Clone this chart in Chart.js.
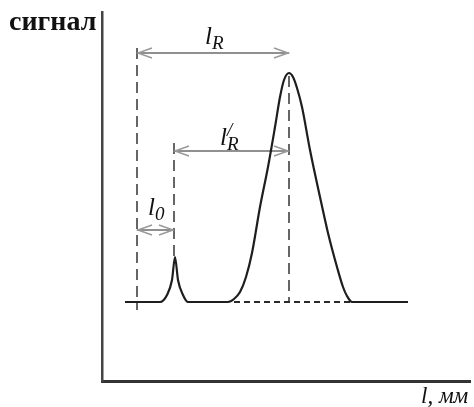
<!DOCTYPE html>
<html><head><meta charset="utf-8">
<script src="https://cdn.jsdelivr.net/npm/chart.js@4.4.1/dist/chart.umd.min.js"></script>
<style>html,body{margin:0;padding:0;background:#fff}</style>
</head><body>
<canvas id="c" width="474" height="407"></canvas>
<script>
// ---- data (x in mm along the chromatogram, y = detector signal) ----
const signalX = [5.75, 14.5, 16.25, 17.5, 18.25, 19, 20.25, 21.5, 31.5, 33, 34.5, 36, 37.5, 39.5, 41.5, 43.25, 44.5, 45.5, 46.75, 47.75, 48.75, 50, 52, 54.5, 56.5, 58.75, 60.25, 61.25, 62.5, 76.5];
const signalY = [19.75, 19.75, 21.5, 25.25, 31, 25.25, 21.5, 19.75, 19.75, 20.5, 22.25, 26, 32, 43.5, 53.5, 63.5, 71, 75.25, 77, 76, 73.25, 68.5, 57.75, 46, 37, 28.5, 23.5, 21.25, 19.75, 19.75];
const baselineLevel = 19.75;
const hiddenBaseX = [33, 62.5];
const markerX = [8.75, 18, 46.75];
const markerTop = [83.25, 59.5, 76.25];
const markerBottom = [17.75, 31, 19.75];
const arrowY = [82, 57.5, 37.75];
const arrowFrom = [8.75, 18, 8.75];
const arrowTo = [46.75, 46.75, 18];
const arrowPrime = [false, true, false];
const arrowSub = ['R', 'R', '0'];
const labelX = [25.75, 29.5, 11.5];
const labelY = [84.25, 59, 41.5];
const yTitle = 'сигнал';
const xTitle = 'l, мм';

const datasets = [];
datasets.push({
  data: signalX.map((x, i) => ({x, y: signalY[i]})),
  borderColor: '#1e1e1e', borderWidth: 2.2, pointRadius: 0,
  cubicInterpolationMode: 'monotone'
});
datasets.push({
  data: hiddenBaseX.map(x => ({x, y: baselineLevel})),
  borderColor: '#2a2a2a', borderWidth: 2, borderDash: [6, 4], pointRadius: 0
});
markerX.forEach((x, i) => datasets.push({
  data: [{x, y: markerTop[i]}, {x, y: markerBottom[i]}],
  borderColor: '#666', borderWidth: 2, borderDash: [11, 6], pointRadius: 0
}));
arrowY.forEach((y, i) => datasets.push({
  data: [{x: arrowFrom[i], y}, {x: arrowTo[i], y}],
  borderColor: '#222', borderWidth: 1.2, pointRadius: 0
}));

const overlay = {
  id: 'overlay',
  afterDatasetsDraw(chart) {
    const ctx = chart.ctx, xs = chart.scales.x, ys = chart.scales.y;
    ctx.save();
    // arrowheads
    ctx.strokeStyle = '#9a9a9a'; ctx.lineWidth = 1.5;
    arrowY.forEach((y, i) => {
      const py = ys.getPixelForValue(y);
      const a = xs.getPixelForValue(arrowFrom[i]);
      const b = xs.getPixelForValue(arrowTo[i]);
      ctx.beginPath();
      ctx.moveTo(a + 15, py - 5); ctx.lineTo(a + 1, py); ctx.lineTo(a + 15, py + 5);
      ctx.moveTo(b - 15, py - 5); ctx.lineTo(b - 1, py); ctx.lineTo(b - 15, py + 5);
      ctx.stroke();
    });
    // labels
    ctx.fillStyle = '#111';
    ctx.textBaseline = 'alphabetic'; ctx.textAlign = 'left';
    labelX.forEach((lx, i) => {
      const px = xs.getPixelForValue(lx), py = ys.getPixelForValue(labelY[i]);
      ctx.font = 'italic 25px "Liberation Serif", serif';
      ctx.fillText('l', px, py);
      const w = ctx.measureText('l').width;
      ctx.font = 'italic 19px "Liberation Serif", serif';
      if (arrowPrime[i]) ctx.fillText('/', px + w, py - 9);
      ctx.fillText(arrowSub[i], px + w, py + 5);
    });
    // axis titles
    ctx.font = 'bold 28px "Liberation Serif", serif';
    ctx.fillText(yTitle, 9, 30);
    ctx.font = 'italic 23px "Liberation Serif", serif';
    ctx.fillText(xTitle, 421, 403);
    ctx.restore();
  }
};

new Chart(document.getElementById('c'), {
  type: 'line',
  data: {datasets},
  options: {
    responsive: false, animation: false, devicePixelRatio: 1,
    layout: {padding: {left: 102, top: 12, right: 4, bottom: 26}},
    plugins: {legend: {display: false}, tooltip: {enabled: false}},
    scales: {
      x: {type: 'linear', min: 0, max: 92,
          grid: {display: false, drawTicks: false}, ticks: {display: false},
          border: {display: true, color: '#333', width: 3}},
      y: {type: 'linear', min: 0, max: 92.25,
          grid: {display: false, drawTicks: false}, ticks: {display: false},
          border: {display: true, color: '#444', width: 2.5}}
    }
  },
  plugins: [overlay]
});
</script>
</body></html>
